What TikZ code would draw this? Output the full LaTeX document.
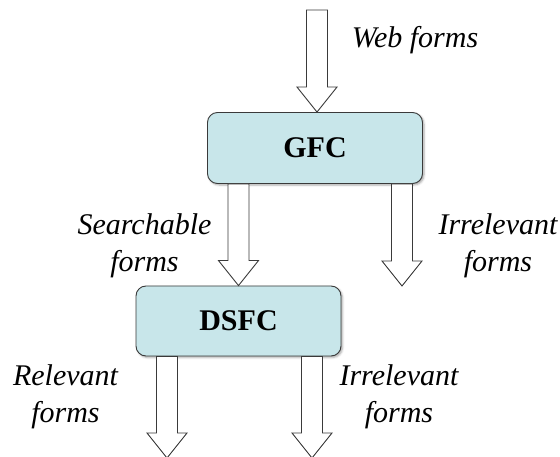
\documentclass[tikz,border=0pt]{standalone}
\usepackage{fontspec}
\setmainfont{Liberation Serif}
\usepackage{tikz}
\usetikzlibrary{calc,shadows.blur}
\definecolor{FCfill}{HTML}{C8E6EA}
\definecolor{FCline}{HTML}{3A3A3A}
\tikzset{
  classbox/.style={rounded corners=10pt, draw=FCline, fill=FCfill, line width=0.9pt, minimum width=215pt, minimum height=71pt, font=\fontsize{30}{36}\selectfont\bfseries, blur shadow={shadow xshift=1.5pt, shadow yshift=-1.5pt, shadow blur radius=2pt, shadow opacity=35}},
  flowlabel/.style={align=center, font=\fontsize{30}{37}\selectfont\itshape, inner sep=0pt},
  hollowarr/.style={draw=FCline, fill=white, line width=0.9pt, line join=miter}
}
\newcommand{\blockarrow}[2]{%
  \draw[hollowarr] let \p1=(#1), \p2=(#2) in
    (\x1-10.5pt,\y1) -- (\x1-10.5pt,\y2+25pt) -- (\x1-20pt,\y2+25pt) -- (\x1,\y2)
    -- (\x1+20pt,\y2+25pt) -- (\x1+10.5pt,\y2+25pt) -- (\x1+10.5pt,\y1) -- cycle;
}

\begin{document}
\begin{tikzpicture}[x=1pt,y=-1pt]
\useasboundingbox (0,0) rectangle (560,457);
\node[classbox] (gfc) at (315,148) {GFC};
\node[classbox, minimum width=205pt, minimum height=70pt] (dsfc) at (238.5,321) {DSFC};
\coordinate (webin) at (317,10);
\coordinate (irrout) at (402,286);
\coordinate (relout) at (167,458);
\coordinate (dropout) at (312,458);
\blockarrow{webin}{gfc.north -| webin}
\blockarrow{gfc.south -| dsfc.north}{dsfc.north}
\blockarrow{gfc.south -| irrout}{irrout}
\blockarrow{dsfc.south -| relout}{relout}
\blockarrow{dsfc.south -| dropout}{dropout}
\node[flowlabel] (weblbl) at (415,40) {Web forms};
\node[flowlabel] (searchlbl) at (144.5,246) {Searchable\\forms};
\node[flowlabel] (irrlbl) at (498,246) {Irrelevant\\forms};
\node[flowlabel] (rellbl) at (65.5,397) {Relevant\\forms};
\node[flowlabel] (droplbl) at (399,397) {Irrelevant\\forms};
\end{tikzpicture}
\end{document}
